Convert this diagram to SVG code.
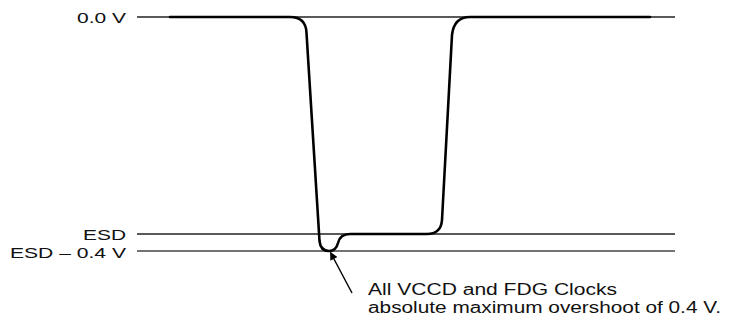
<svg xmlns="http://www.w3.org/2000/svg" width="729" height="321" viewBox="0 0 729 321">
<style>
.lbl{font-family:"Liberation Sans",Arial,Helvetica,sans-serif;font-size:15.5px;fill:#111}
.note{font-family:"Liberation Sans",Arial,Helvetica,sans-serif;font-size:16px;fill:#111}
.ref{stroke:#222;stroke-width:1.3;fill:none}
.wave{stroke:#000;stroke-width:2.6;fill:none;stroke-linejoin:round;stroke-linecap:round}
.arr{stroke:#000;stroke-width:1.4;fill:none}
</style>
<defs>
<marker id="ah" viewBox="0 0 10 10" refX="9" refY="5" markerWidth="10" markerHeight="8" markerUnits="userSpaceOnUse" orient="auto">
<path d="M0,0 L10,5 L0,10 Z" fill="#000"/>
</marker>
</defs>
<g id="levels">
<line class="ref" x1="137" y1="17" x2="675" y2="17"/>
<line class="ref" x1="137" y1="234" x2="675" y2="234"/>
<line class="ref" x1="137" y1="251" x2="675" y2="251" style="stroke:#444"/>
</g>
<g id="labels">
<text class="lbl" x="126" y="22.5" text-anchor="end" textLength="49" lengthAdjust="spacingAndGlyphs">0.0 V</text>
<text class="lbl" x="126" y="239.5" text-anchor="end" textLength="43" lengthAdjust="spacingAndGlyphs">ESD</text>
<text class="lbl" x="10" y="257.5" textLength="116" lengthAdjust="spacingAndGlyphs">ESD – 0.4 V</text>
</g>
<g id="waveform">
<path class="wave" d="M170,17 L290,17 Q306,17 306.5,33 L319.5,241 Q320.5,251 329,251 Q336,251 338,243 Q340,234 350,234 L427,234 Q441,234 442,220 L452,35 Q454,17 470,17 L650,17"/>
</g>
<g id="connectors">
<line class="arr" x1="352" y1="293" x2="330.5" y2="252.5" marker-end="url(#ah)"/>
</g>
<g id="note">
<text class="note" x="368" y="294.5" textLength="249" lengthAdjust="spacingAndGlyphs">All VCCD and FDG Clocks</text>
<text class="note" x="368" y="313" textLength="353" lengthAdjust="spacingAndGlyphs">absolute maximum overshoot of 0.4 V.</text>
</g>
</svg>
